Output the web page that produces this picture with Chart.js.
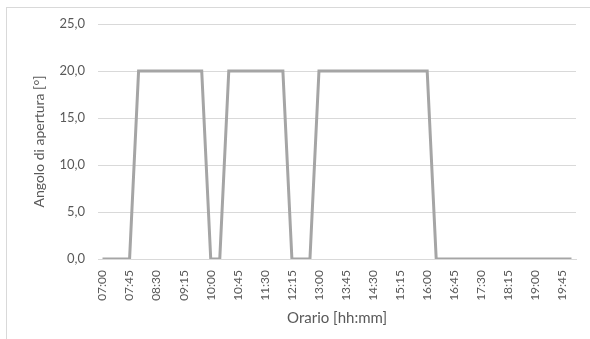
<!DOCTYPE html>
<html>
<head>
<meta charset="utf-8">
<script src="https://cdn.jsdelivr.net/npm/chart.js@4/dist/chart.umd.min.js"></script>
<style>
  html, body { margin: 0; padding: 0; background: #ffffff; }
  #wrap { width: 590px; height: 339px; position: relative; }
</style>
</head>
<body>
<div id="wrap"><canvas id="c" width="590" height="339"></canvas></div>
<script>
// Time of day, one sample every 15 minutes
const times = [
  '07:00','07:15','07:30','07:45','08:00','08:15','08:30','08:45',
  '09:00','09:15','09:30','09:45','10:00','10:15','10:30','10:45',
  '11:00','11:15','11:30','11:45','12:00','12:15','12:30','12:45',
  '13:00','13:15','13:30','13:45','14:00','14:15','14:30','14:45',
  '15:00','15:15','15:30','15:45','16:00','16:15','16:30','16:45',
  '17:00','17:15','17:30','17:45','18:00','18:15','18:30','18:45',
  '19:00','19:15','19:30','19:45','20:00'
];

// Opening angle [°] at each sample
const angle = [
  0, 0, 0, 0, 20, 20, 20, 20,
  20, 20, 20, 20, 0, 0, 20, 20,
  20, 20, 20, 20, 20, 0, 0, 0,
  20, 20, 20, 20, 20, 20, 20, 20,
  20, 20, 20, 20, 20, 0, 0, 0,
  0, 0, 0, 0, 0, 0, 0, 0,
  0, 0, 0, 0, 0
];

// Y axis range and step
const yMin = 0;
const yMax = 25;
const yStep = 5;

// Only every third time is printed on the axis
const labelEvery = 3;

const textColor = '#595959';
const gridColor = '#d9d9d9';
const fontFamily = 'Lato, "Open Sans", sans-serif';

const frame = {
  id: 'frame',
  beforeDraw(chart) {
    const ctx = chart.ctx;
    ctx.save();
    ctx.fillStyle = '#ffffff';
    ctx.fillRect(0, 0, chart.width, chart.height);
    ctx.strokeStyle = gridColor;
    ctx.lineWidth = 1;
    ctx.strokeRect(6.5, 7.5, 600, 400);
    ctx.restore();
  }
};

new Chart(document.getElementById('c'), {
  type: 'line',
  data: {
    labels: times,
    datasets: [{
      data: angle,
      borderColor: '#a5a5a5',
      borderWidth: 3,
      pointRadius: 0,
      pointHoverRadius: 0,
      tension: 0,
      fill: false
    }]
  },
  options: {
    responsive: false,
    devicePixelRatio: 1,
    animation: false,
    events: [],
    layout: { padding: { left: 0, right: 14, top: 24, bottom: 0 } },
    plugins: {
      legend: { display: false },
      tooltip: { enabled: false }
    },
    scales: {
      x: {
        type: 'category',
        offset: true,
        grid: { display: false, drawTicks: false },
        border: { display: true, color: gridColor, width: 1 },
        ticks: {
          autoSkip: false,
          minRotation: 90,
          maxRotation: 90,
          padding: 11,
          color: textColor,
          font: { family: fontFamily, size: 12 },
          callback(value, index) {
            return index % labelEvery === 0 ? this.getLabelForValue(value) : '';
          }
        },
        title: {
          display: true,
          text: 'Orario [hh:mm]',
          color: textColor,
          font: { family: fontFamily, size: 15 },
          padding: { top: 0, bottom: 12 }
        },
        afterFit(scale) {
          scale.height = 80;
          scale.paddingLeft = 0;
          scale.paddingRight = 0;
        }
      },
      y: {
        min: yMin,
        max: yMax,
        grid: { color: gridColor, lineWidth: 1, drawTicks: false },
        border: { display: false },
        ticks: {
          stepSize: yStep,
          padding: 13,
          color: textColor,
          font: { family: fontFamily, size: 13 },
          callback(value) { return value.toFixed(1).replace('.', ','); }
        },
        title: {
          display: true,
          text: 'Angolo di apertura [°]',
          color: textColor,
          font: { family: fontFamily, size: 14 },
          padding: { top: 31, bottom: 0 }
        },
        afterFit(scale) {
          scale.width = 98;
          scale.paddingTop = 0;
          scale.paddingBottom = 0;
        }
      }
    }
  },
  plugins: [frame]
});
</script>
</body>
</html>
